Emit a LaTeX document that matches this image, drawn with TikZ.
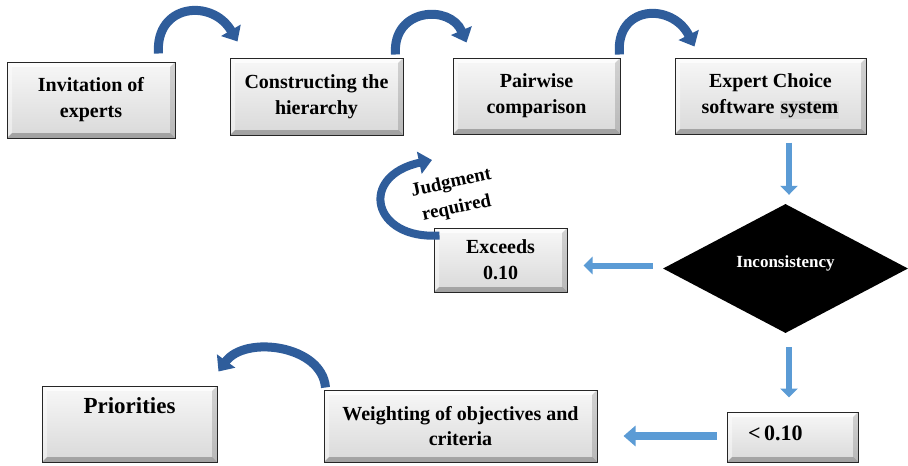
\documentclass[tikz,border=0pt]{standalone}
\usepackage{fontspec}
\setmainfont{Liberation Serif}
\usetikzlibrary{arrows.meta,shapes.geometric,shadows,calc}
\definecolor{ribbon}{RGB}{47,93,155}
\definecolor{blockblue}{RGB}{91,155,213}
\definecolor{hilite}{RGB}{214,214,214}
\begin{document}
\begin{tikzpicture}[x=1pt,y=-1pt,
  bevel/.style={path picture={
    \fill[white,opacity=0.75] (path picture bounding box.north west) -- (path picture bounding box.north east)
      -- ([shift={(-5pt,-5pt)}]path picture bounding box.north east) -- ([shift={(5pt,-5pt)}]path picture bounding box.north west) -- cycle;
    \fill[white,opacity=0.45] (path picture bounding box.north west) -- (path picture bounding box.south west)
      -- ([shift={(5pt,5pt)}]path picture bounding box.south west) -- ([shift={(5pt,-5pt)}]path picture bounding box.north west) -- cycle;
    \fill[black,opacity=0.25] (path picture bounding box.south west) -- (path picture bounding box.south east)
      -- ([shift={(-5pt,5pt)}]path picture bounding box.south east) -- ([shift={(5pt,5pt)}]path picture bounding box.south west) -- cycle;
    \fill[black,opacity=0.15] (path picture bounding box.north east) -- (path picture bounding box.south east)
      -- ([shift={(-5pt,5pt)}]path picture bounding box.south east) -- ([shift={(-5pt,-5pt)}]path picture bounding box.north east) -- cycle;
  }},
  box/.style={draw=black!85, line width=1pt, top color=gray!6, bottom color=gray!30, bevel,
    drop shadow={shadow xshift=1.2pt, shadow yshift=-1.2pt, opacity=0.35},
    align=center, inner sep=2pt, font=\fontsize{20}{26}\selectfont\bfseries},
  ribbonarrow/.style={draw=ribbon, line width=9pt, -{Triangle[width=22pt,length=13pt]}},
  blockarrow/.style={draw=blockblue, line width=6pt, -{Triangle[width=17pt,length=9pt]}},
  blockarrowwide/.style={draw=blockblue, line width=8pt, -{Triangle[width=20pt,length=12pt]}},
  label/.style={font=\fontsize{19}{26}\selectfont\bfseries, align=center, inner sep=0pt}
]
\useasboundingbox (0,0) rectangle (908,466);

% top row
\node[box, minimum width=168pt, minimum height=76pt] (b1) at (91,100) {Invitation of\\experts};
\node[box, minimum width=173pt, minimum height=77pt] (b2) at (316.5,96.5) {Constructing the\\hierarchy};
\node[box, minimum width=167pt, minimum height=76pt] (b3) at (536.5,96) {Pairwise\\comparison};
\node[box, minimum width=191pt, minimum height=76pt] (b4) at (770.5,96) {Expert Choice\\software {\setlength{\fboxsep}{1pt}\colorbox{hilite}{system}}};

% decision
\node[diamond, fill=black, minimum width=245pt, minimum height=129pt, inner sep=0pt,
      text=white, font=\fontsize{17}{20}\selectfont\bfseries, text height=11pt, text depth=14pt]
      (inc) at (785.5,268.5) {Inconsistency};

\node[box, minimum width=133pt, minimum height=64pt] (exc) at (500.5,260) {Exceeds\\0.10};
\node[label, rotate=12] (jr) at (454,196) {Judgment\\required};

% bottom row
\node[box, minimum width=175pt, minimum height=76pt, font=\fontsize{23}{28}\selectfont\bfseries,
      text height=17pt, text depth=39pt] (pri) at (129.5,424) {Priorities};
\node[box, minimum width=273pt, minimum height=72pt, font=\fontsize{20}{25}\selectfont\bfseries] (wgt) at (460.5,426) {Weighting of objectives and\\criteria};
\node[box, minimum width=131pt, minimum height=50pt, font=\fontsize{22}{26}\selectfont\bfseries,
      text width=89pt, align=left, inner xsep=21pt, text height=15pt, text depth=9pt] (lt) at (792.5,437) {<\,0.10};

% curved ribbon arrows
\coordinate (a1s) at ($(b1.north east)+(-17,-8)$);
\coordinate (a1e) at ($(b2.north west)+(8,-16)$);
\draw[ribbonarrow] (a1s) .. controls (155,4) and (212,-2) .. (a1e);

\coordinate (a2s) at ($(b2.north east)+(-8,-3)$);
\coordinate (a2e) at ($(b3.north west)+(14,-15)$);
\draw[ribbonarrow] (a2s) .. controls (392,8) and (450,4) .. (a2e);

\coordinate (a3s) at ($(b3.north east)+(-1,-3)$);
\coordinate (a3e) at ($(b4.north west)+(20,-11)$);
\draw[ribbonarrow] (a3s) .. controls (615,5) and (672,2) .. (a3e);

\coordinate (jrs) at ($(exc.north west)+(6,8)$);
\coordinate (jre) at (432,160);
\draw[ribbonarrow, line width=8pt] (jrs) .. controls (372,240) and (358,176) .. (jre);

\coordinate (a4s) at ($(wgt.north west)+(2,-2)$);
\coordinate (a4e) at ($(pri.north east)+(1,-14)$);
\draw[ribbonarrow] (a4s) .. controls (322,345) and (245,335) .. (a4e);

% block arrows
\draw[blockarrow] ($(b4.south)+(18.5,8)$) -- ($(b4.south |- inc.north)+(18.5,-9)$);
\draw[blockarrow] ($(inc.west)+(-10,-3)$) -- ($(inc.west -| exc.east)+(16,-3)$);
\draw[blockarrow] ($(inc.south)+(3.5,14)$) -- ($(inc.south |- lt.north)+(3.5,-14)$);
\draw[blockarrowwide] ($(lt.west)+(-10,-1)$) -- ($(lt.west -| wgt.east)+(26,-1)$);
\end{tikzpicture}
\end{document}
